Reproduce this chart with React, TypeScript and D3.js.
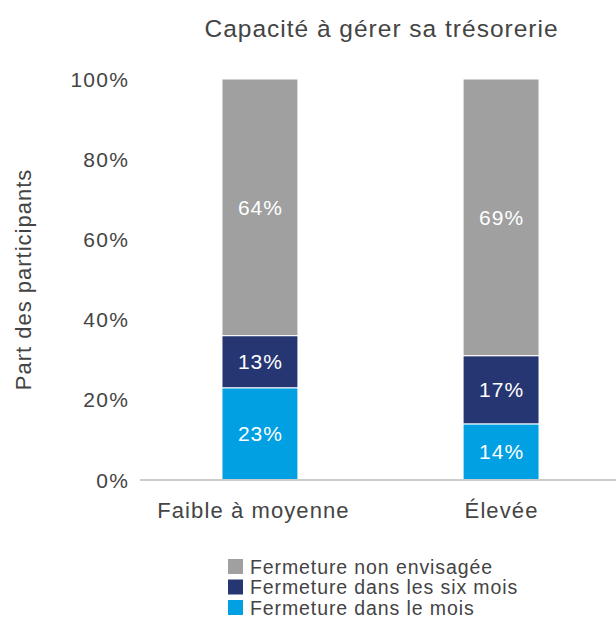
import React from 'react';
import * as d3 from 'd3';

const categories = ['Faible à moyenne', 'Élevée'];
const seriesNames = ['Fermeture dans le mois', 'Fermeture dans les six mois', 'Fermeture non envisagée'];
const moisValues = [23, 14];
const sixMoisValues = [13, 17];
const nonEnvisageeValues = [64, 69];
const seriesColors = ['#00a0e3', '#263673', '#a0a0a0'];
const yTicks = [0, 20, 40, 60, 80, 100];
const legendOrder = [2, 1, 0];

const width = 616;
const height = 621;
const font = '"Liberation Sans", Arial, Helvetica, sans-serif';
const textColor = '#444444';
// the long first category label sits a little left of its bar in the original
const labelNudge = [-7, 0];

const App = () => {
  const x = d3.scaleBand<string>()
    .domain(categories)
    .range([140, 621])
    .paddingInner(0.685)
    .paddingOuter(0.34);

  const y = d3.scaleLinear().domain([0, 100]).range([480, 79]);

  const rows = categories.map((c, i) => ({
    category: c,
    s0: moisValues[i],
    s1: sixMoisValues[i],
    s2: nonEnvisageeValues[i],
  }));
  const stack = d3.stack<any>().keys(['s0', 's1', 's2']);
  const layers = stack(rows);

  return (
    <svg width={width} height={height} style={{ display: 'block', position: 'absolute', left: 0, top: 0 }}
      fontFamily={font}>
      {/* title */}
      <text x={381.5} y={37} textAnchor="middle" fontSize={24.5} letterSpacing={1} fill={textColor}>
        Capacité à gérer sa trésorerie
      </text>

      {/* y axis labels */}
      {yTicks.map(t => (
        <text key={t} x={129} y={y(t)} dy="0.36em" textAnchor="end" fontSize={21} letterSpacing={1.2}
          fill={textColor}>
          {t}%
        </text>
      ))}
      <text transform={`translate(31,${(y(0) + y(100)) / 2}) rotate(-90)`} textAnchor="middle"
        fontSize={22} letterSpacing={1} fill={textColor}>
        Part des participants
      </text>

      {/* bars */}
      {layers.map((layer, li) => (
        <g key={li}>
          {layer.map((d, i) => {
            const x0 = x(categories[i]) as number;
            const top = y(d[1]);
            const bottom = y(d[0]);
            const v = d[1] - d[0];
            return (
              <g key={i}>
                <rect x={x0} y={top} width={x.bandwidth()} height={bottom - top}
                  fill={seriesColors[li]} stroke="#ffffff" strokeWidth={1} />
                <text x={x0 + x.bandwidth() / 2 + 0.5} y={(top + bottom) / 2} dy="0.36em"
                  textAnchor="middle" fontSize={21} letterSpacing={1} fill="#ffffff">
                  {v}%
                </text>
              </g>
            );
          })}
        </g>
      ))}

      {/* baseline */}
      <line x1={140} x2={616} y1={y(0)} y2={y(0)} stroke="#cccccc" strokeWidth={2} />

      {/* category labels */}
      {categories.map((c, i) => (
        <text key={c} x={(x(c) as number) + x.bandwidth() / 2 + 0.5 + labelNudge[i]} y={518}
          textAnchor="middle" fontSize={22} letterSpacing={1.1} fill={textColor}>
          {c}
        </text>
      ))}

      {/* legend */}
      {legendOrder.map((si, k) => (
        <g key={si} transform={`translate(228,${559 + k * 20.5})`}>
          <rect width={15} height={15} fill={seriesColors[si]} />
          <text x={22} y={7.5} dy="0.36em" fontSize={19.5} letterSpacing={0.9} fill={textColor}>
            {seriesNames[si]}
          </text>
        </g>
      ))}
    </svg>
  );
};

export default App;
